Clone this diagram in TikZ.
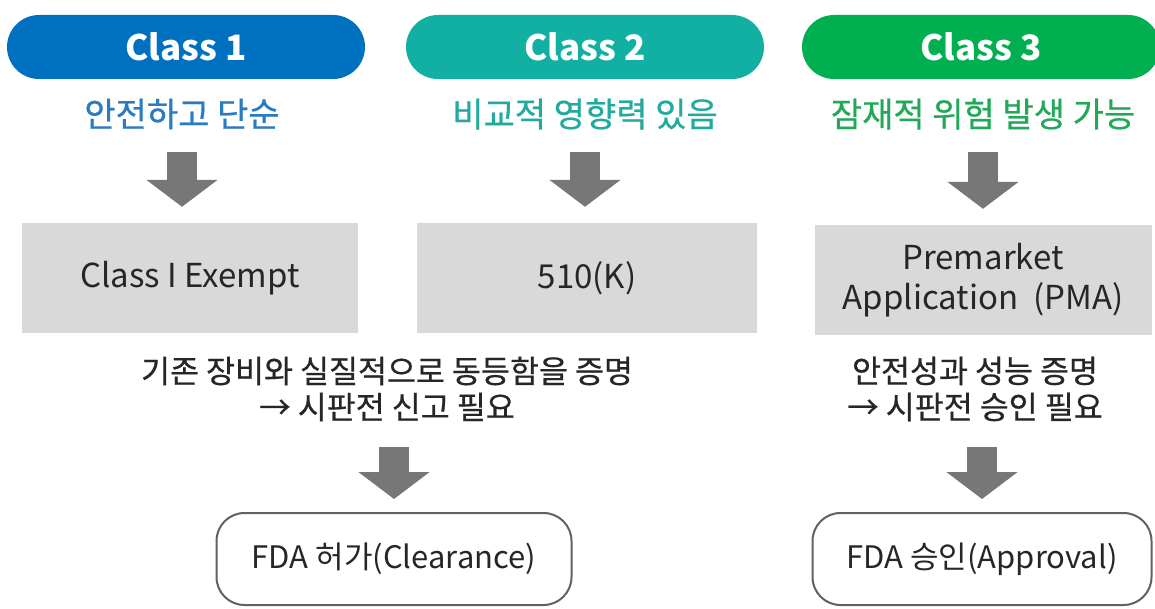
\documentclass[tikz,border=0pt]{standalone}
\usepackage{fontspec}
\setmainfont{Noto Sans CJK KR}
\newfontfamily\medfont[FakeBold=0.6]{Noto Sans CJK KR}
\usepackage{tikz}
\usetikzlibrary{positioning, shapes.misc, arrows.meta}

\definecolor{clsone}{HTML}{0070C0}
\definecolor{clstwo}{HTML}{12B0A2}
\definecolor{clsthree}{HTML}{00B050}
\definecolor{subone}{HTML}{2A7BC2}
\definecolor{subtwo}{HTML}{22AA9E}
\definecolor{subthree}{HTML}{22A858}
\definecolor{boxgray}{HTML}{D9D9D9}
\definecolor{arrowgray}{HTML}{777777}
\definecolor{txtdark}{HTML}{262626}

\begin{document}
\begin{tikzpicture}[x=1pt, y=-1pt, on grid,
    header/.style={rounded rectangle, minimum width=358pt, minimum height=64pt, inner sep=0pt,
                   text=white, font=\fontsize{35}{40}\selectfont\bfseries},
    desc/.style={inner sep=0pt, font=\medfont\fontsize{34}{38}\selectfont},
    route/.style={fill=boxgray, minimum height=110pt, inner sep=0pt, text=txtdark, align=center,
                  font=\fontsize{33}{40}\selectfont},
    proof/.style={inner sep=0pt, text=txtdark, align=center, font=\medfont\fontsize{31.5}{36}\selectfont},
    fda/.style={draw=black!62, line width=2pt, rounded corners=28pt, minimum height=92pt,
                inner sep=0pt, text=txtdark, font=\fontsize{31}{34}\selectfont},
    bigarrow/.style={draw=arrowgray, line width=30pt, -{Triangle[width=70pt, length=27pt]}}]
  \useasboundingbox (0,0) rectangle (1155,609);

  \node[header, fill=clsone]   (C1) at (186,47) {Class 1};
  \node[header, fill=clstwo]   (C2) at (585,47) {Class 2};
  \node[header, fill=clsthree] (C3) at (981,47) {Class 3};

  \node[desc, text=subone]   (D1) [below=67pt of C1, xshift=-4pt] {안전하고 단순};
  \node[desc, text=subtwo]   (D2) [below=67pt of C2] {비교적 영향력 있음};
  \node[desc, text=subthree] (D3) [below=67pt of C3, xshift=2pt] {잠재적 위험 발생 가능};

  \node[route, minimum width=336pt] (R1) at (190,278) {Class I Exempt};
  \node[route, minimum width=340pt] (R2) at (587,278) {510(K)};
  \node[route, minimum width=337pt] (R3) at (983,280) {Premarket\\Application\ \ (PMA)};

  \node[proof] (P1) at (387,389) {기존 장비와 실질적으로 동등함을 증명\\→ 시판전 신고 필요};
  \node[proof] (P2) at (975,389) {안전성과 성능 증명\\→ 시판전 승인 필요};

  \node[fda, minimum width=355pt] (F1) at (394,559) {FDA 허가(Clearance)};
  \node[fda, minimum width=339pt] (F2) at (982,559) {FDA 승인(Approval)};

  \path
    (D1.center) edge[bigarrow, shorten <=38pt, shorten >=16pt] (D1.center |- R1.north)
    (D2.center) edge[bigarrow, shorten <=38pt, shorten >=16pt] (D2.center |- R2.north)
    (D3.center) edge[bigarrow, shorten <=38pt, shorten >=16pt] (D3.center |- R3.north)
    (P1.center -| F1.north) edge[bigarrow, shorten <=58pt, shorten >=13pt] (F1.north)
    (P2.center -| F2.north) edge[bigarrow, shorten <=58pt, shorten >=13pt] (F2.north);
\end{tikzpicture}
\end{document}
